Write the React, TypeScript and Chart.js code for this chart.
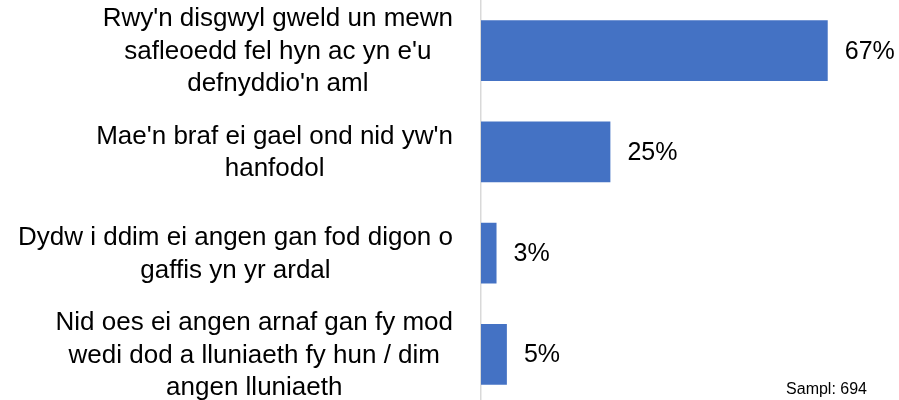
import React, { useEffect, useRef } from "react";
import { Chart, registerables } from "chart.js";

Chart.register(...registerables);

const categories: string[][] = [
  ["Rwy'n disgwyl gweld un mewn", "safleoedd fel hyn ac yn e'u", "defnyddio'n aml"],
  ["Mae'n braf ei gael ond nid yw'n", "hanfodol"],
  ["Dydw i ddim ei angen gan fod digon o", "gaffis yn yr ardal"],
  ["Nid oes ei angen arnaf gan fy mod", "wedi dod a lluniaeth fy hun / dim", "angen lluniaeth"],
];
const values: number[] = [67, 25, 3, 5];
const sampleNote = "Sampl: 694";

const FONT = "Liberation Sans, Arial, sans-serif";

export default function App() {
  const ref = useRef<HTMLCanvasElement | null>(null);

  useEffect(() => {
    document.body.style.margin = "0";
    const canvas = ref.current;
    if (!canvas) return;

    const labelPlugin = {
      id: "centeredLabels",
      afterDraw(chart: any) {
        const ctx = chart.ctx;
        const y = chart.scales.y;
        const fontSize = 26;
        const lh = fontSize * 1.25;
        ctx.save();
        ctx.font = `${fontSize}px ${FONT}`;
        ctx.fillStyle = "#000000";
        ctx.textBaseline = "middle";
        ctx.textAlign = "center";
        categories.forEach((lines, i) => {
          const py = y.getPixelForTick(i);
          const maxW = Math.max(...lines.map((l) => ctx.measureText(l).width));
          const right = y.right - 28;
          const cx = right - maxW / 2;
          lines.forEach((line, j) => {
            ctx.fillText(line, cx, py + 1 + (j - (lines.length - 1) / 2) * lh);
          });
        });
        ctx.font = `16px ${FONT}`;
        ctx.textAlign = "right";
        ctx.textBaseline = "middle";
        ctx.fillText(sampleNote, chart.width - 32, 390);
        ctx.restore();
      },
      afterDatasetsDraw(chart: any) {
        const ctx = chart.ctx;
        const meta = chart.getDatasetMeta(0);
        ctx.save();
        ctx.font = `25px ${FONT}`;
        ctx.fillStyle = "#000000";
        ctx.textAlign = "left";
        ctx.textBaseline = "middle";
        meta.data.forEach((el: any, i: number) => {
          ctx.fillText(`${values[i]}%`, el.x + 17, el.y + 1);
        });
        ctx.restore();
      },
    };

    const chart = new Chart(canvas, {
      type: "bar",
      data: {
        labels: categories,
        datasets: [
          {
            data: values,
            backgroundColor: "#4472C4",
            borderWidth: 0,
            categoryPercentage: 1,
            barPercentage: 0.6,
          },
        ],
      },
      options: {
        indexAxis: "y",
        animation: false,
        responsive: false,
        maintainAspectRatio: false,
        layout: { padding: { top: 0, right: 4, bottom: 0, left: 0 } },
        plugins: {
          legend: { display: false },
          tooltip: { enabled: false },
        },
        scales: {
          x: {
            display: false,
            min: 0,
            max: 80,
          },
          y: {
            grid: { display: false, drawTicks: false },
            border: { display: true, color: "#D9D9D9", width: 1.5 },
            ticks: { display: false },
            afterFit(scale: any) {
              scale.width = 481;
              scale.paddingTop = 0;
              scale.paddingBottom = 0;
            },
          },
        },
      },
      plugins: [labelPlugin],
    });

    return () => chart.destroy();
  }, []);

  return (
    <div style={{ width: 899, height: 400, overflow: "hidden", background: "#ffffff" }}>
      <canvas ref={ref} width={899} height={405} style={{ display: "block" }} />
    </div>
  );
}
